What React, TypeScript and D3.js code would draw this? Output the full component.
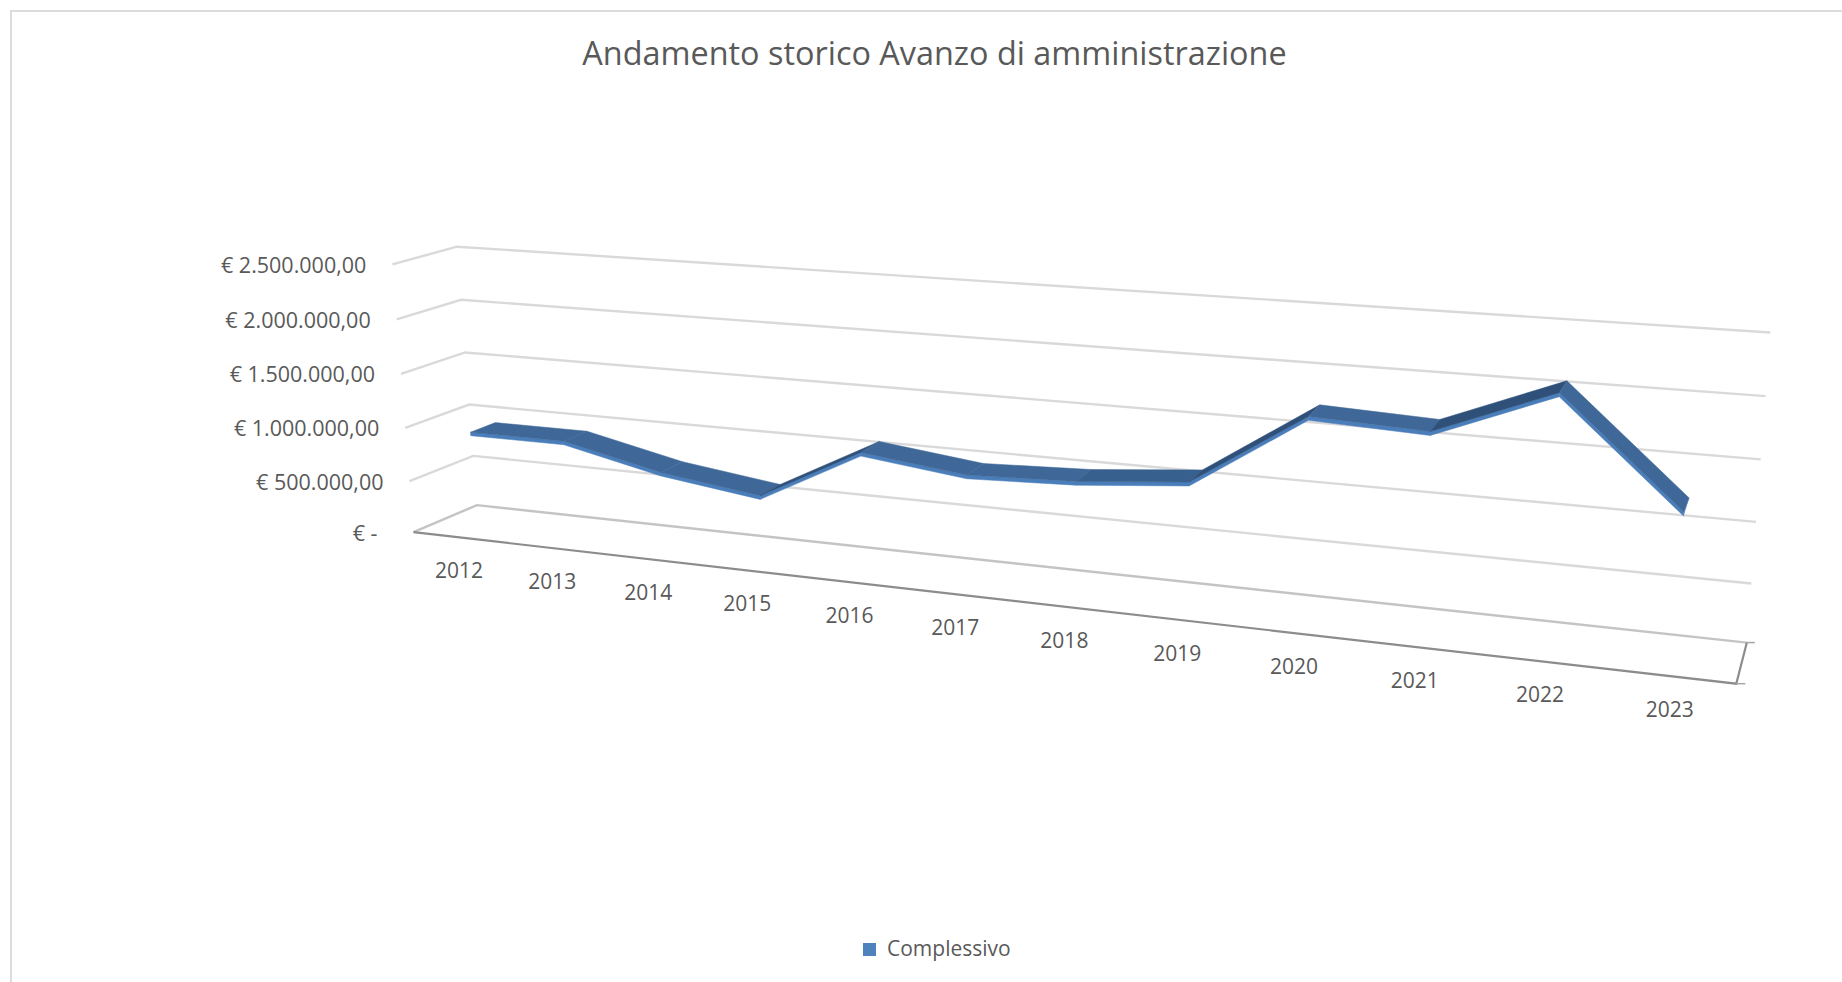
import React from "react";
import * as d3 from "d3";

const title = "Andamento storico Avanzo di amministrazione";
const seriesName = "Complessivo";
const categories = ["2012","2013","2014","2015","2016","2017","2018","2019","2020","2021","2022","2023"];
const values = [935000,935000,735000,613000,1090000,980000,1015000,1100000,1730000,1690000,2080000,1230000];
const ticks = [0,500000,1000000,1500000,2000000,2500000];
const tickLabels = ["€ -","€ 500.000,00","€ 1.000.000,00","€ 1.500.000,00","€ 2.000.000,00","€ 2.500.000,00"];

const W = 1842, H = 982, S = 1842 / 1568;
type P = [number, number];
const sc = (a: number, b: number): P => [a * S, b * S];
// Projected corners of the 3D plot box: front/back, left/right, bottom/top
const FL0 = sc(352,453), FL1 = sc(334,225), BL0 = sc(406,430), BL1 = sc(389,210);
const BR0 = sc(1487,547), BR1 = sc(1507,283), FR0 = sc(1478,582), FR1 = sc(1498,308);
const lerp = (a: P, b: P, t: number): P => [a[0] + (b[0]-a[0])*t, a[1] + (b[1]-a[1])*t];

const vScale = d3.scalePow().exponent(1.03).domain([0, 2500000]).range([0, 1]);
const uScale = d3.scaleBand<string>().domain(categories).range([0, 1]);
const K = 1.22;
const persp = (u: number) => u / (u + (1 - u) * K);
const uOf = (c: string) => persp((uScale(c) as number) + uScale.bandwidth() / 2);

function project(p: number, d: number, v: number): P {
  const front = lerp(lerp(FL0, FR0, p), lerp(FL1, FR1, p), v);
  const back = lerp(lerp(BL0, BR0, p), lerp(BL1, BR1, p), v);
  return lerp(front, back, d);
}

const D0 = 0.3, D1 = 0.7, THICK = 0.013;
const line = d3.line();
const poly = (pts: P[]) => (line(pts) as string) + "Z";
const GRID = "#d9d9d9", TXT = "#595959", FONT = "'Open Sans', sans-serif";

export default function App() {
  const pts = categories.map((c, i) => ({ p: uOf(c), v: vScale(values[i]) }));
  const segs = pts.slice(1).map((b, i) => ({ a: pts[i], b }));
  const color = (s: {a: any; b: any}) => {
    const slope = s.b.v - s.a.v;
    if (slope > 0.15) return "#2f5079";
    if (slope > 0.03) return "#38608e";
    return "#3f6898";
  };
  return (
    <svg width={W} height={H} style={{ position: "fixed", left: 0, top: 0, background: "#fff" }} fontFamily={FONT}>
      <path d={line([[11, H], [11, 11], [W, 11]]) as string} fill="none" stroke="#dcdcdc" strokeWidth={2} />
      <text x={934.5} y={52} textAnchor="middle" dominantBaseline="central" fontSize={32.4} fill={TXT}>{title}</text>

      {ticks.map((t, i) => {
        const v = vScale(t);
        const fl = project(0, 0, v), bl = project(0, 1, v), br = project(1, 1, v);
        return (
          <g key={t}>
            <path d={line([fl, bl, br]) as string} fill="none" stroke={i === 0 ? "#c4c4c4" : GRID} strokeWidth={2.4} />
            <text x={fl[0] - (i === 0 ? 36 : 26)} y={fl[1]} textAnchor="end" dominantBaseline="central" fontSize={21.5} fill={TXT}>{tickLabels[i]}</text>
          </g>
        );
      })}
      <path d={line([project(0,0,0), project(1,0,0), project(1,1,0)]) as string} fill="none" stroke="#8c8c8c" strokeWidth={2.2} />
      <path d={line([project(1,1,0), [project(1,1,0)[0]+8, project(1,1,0)[1]]]) as string} stroke="#a6a6a6" strokeWidth={1.5} />
      <path d={line([project(1,0,0), [project(1,0,0)[0]+9, project(1,0,0)[1]]]) as string} stroke="#a6a6a6" strokeWidth={1.5} />

      {categories.map((c) => {
        const f = project(uOf(c), 0, 0);
        return <text key={c} x={f[0]} y={f[1] + 33} textAnchor="middle" dominantBaseline="central" fontSize={21} fill={TXT}>{c}</text>;
      })}

      {segs.map((s, i) => (
        <path key={"f" + i} d={poly([
          project(s.a.p, D0, s.a.v), project(s.b.p, D0, s.b.v),
          project(s.b.p, D0, s.b.v - THICK), project(s.a.p, D0, s.a.v - THICK),
        ])} fill="#4a7ebb" stroke="#4a7ebb" strokeWidth={0.5} />
      ))}
      {segs.map((s, i) => (
        <path key={"t" + i} d={poly([
          project(s.a.p, D0, s.a.v), project(s.b.p, D0, s.b.v),
          project(s.b.p, D1, s.b.v), project(s.a.p, D1, s.a.v),
        ])} fill={color(s)} stroke={color(s)} strokeWidth={0.5} />
      ))}
      {(() => {
        const e = pts[pts.length - 1];
        return <path d={poly([project(e.p, D0, e.v), project(e.p, D1, e.v), project(e.p, D0, e.v - THICK)])} fill="#4a7ebb" />;
      })()}

      <rect x={863} y={943} width={13} height={13} fill="#4f81bd" />
      <text x={887} y={948} dominantBaseline="central" fontSize={21} fill={TXT}>{seriesName}</text>
    </svg>
  );
}
